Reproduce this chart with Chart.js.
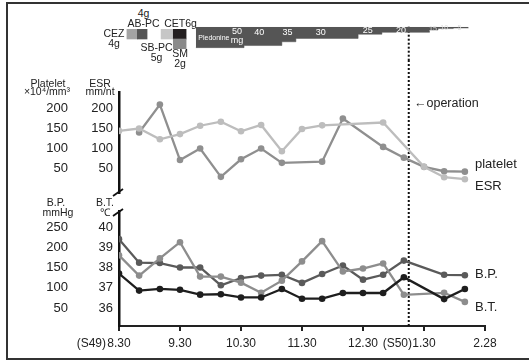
<!DOCTYPE html>
<html>
<head>
<meta charset="utf-8">
<script src="https://cdn.jsdelivr.net/npm/chart.js@4.4.1/dist/chart.umd.min.js"></script>
<style>
html, body { margin: 0; padding: 0; background: #fff; }
#wrap { position: relative; width: 529px; height: 361px; overflow: hidden; font-family: 'Liberation Sans', Arial, sans-serif; color: #222; }
#frame { position: absolute; left: 6px; top: 2px; width: 540px; height: 354px; border: 2px solid #333; border-right: none; }
canvas { position: absolute; left: 0; }
.t { position: absolute; white-space: nowrap; line-height: 1; color: #222; user-select: none; }
</style>
</head>
<body>
<div id="wrap">
  <div id="frame"></div>
  <canvas id="pred" width="529" height="40" style="top:20px"></canvas>
  <canvas id="drugs" width="529" height="20" style="top:29px"></canvas>
  <canvas id="upper" width="529" height="140" style="top:60px"></canvas>
  <canvas id="lower" width="529" height="161" style="top:200px"></canvas>
</div>
<script>
// x values are months after 8.30 (S49)
const monthTicks = ['8.30', '9.30', '10.30', '11.30', '12.30', '1.30', '2.28'];
const operationMonth = 4.75;

// antibiotics
const drugNames = ['CEZ', 'AB-PC', 'SB-PC', 'CET', 'SM'];
const drugFrom = [0.13, 0.30, 0.69, 0.89, 0.89];
const drugTo = [0.30, 0.46, 0.89, 1.10, 1.10];
const drugLane = ['1', '1', '1', '1', '2'];

// Pledonine taper
const pledFrom = [1.26, 2.05, 2.67, 2.90, 3.92, 4.31, 5.09, 5.23, 5.48];
const pledEnd = 5.73;
const pledMg = [50, 40, 35, 30, 25, 20, 15, 10, 5];
const pledBand = [50, 45, 36, 28, 18, 13.5, 8, 4.5, 3];

// platelet / ESR
const esrX = [0, 0.33, 0.67, 1, 1.33, 1.67, 2, 2.33, 2.67, 3, 3.33, 4.33, 5, 5.33, 5.67];
const esrVal = [144, 150, 123, 136, 157, 167, 143, 159, 93, 149, 158, 165, 54, 28, 23];
const plateletX = [0.33, 0.67, 1, 1.33, 1.67, 2, 2.33, 2.67, 3.33, 3.67, 4.33, 4.67, 5, 5.33, 5.67];
const plateletVal = [140, 210, 71, 100, 29, 73, 100, 64, 67, 175, 104, 77, 54, 43, 42];

// B.P. / B.T.
const vitalX = [0, 0.33, 0.67, 1, 1.33, 1.67, 2, 2.33, 2.67, 3, 3.33, 3.67, 4, 4.33, 4.67, 5.33, 5.67];
const bpHigh = [220, 162, 161, 150, 150, 106, 124, 130, 132, 112, 134, 155, 120, 132, 167, 132, 131];
const bpLow = [135, 93, 97, 95, 83, 84, 76, 76, 97, 73, 73, 87, 87, 87, 126, 72, 97];
const bodyTemp = [38.6, 37.6, 38.45, 39.25, 37.55, 37.55, 37.25, 36.75, 37.35, 38.3, 39.3, 37.8, 37.95, 38.2, 36.65, 36.75, 36.3];

const upperTicks = [50, 100, 150, 200];
const bpTicks = [50, 100, 150, 200, 250];
const btTicks = [36, 37, 38, 39, 40];

const FONT = "'Liberation Sans', Arial, sans-serif";
Chart.defaults.font.family = FONT;
Chart.defaults.color = '#222';
Chart.defaults.animation = false;
Chart.defaults.responsive = false;
Chart.defaults.devicePixelRatio = 1;
Chart.defaults.plugins.legend.display = false;
Chart.defaults.plugins.tooltip.enabled = false;

const pts = (xs, ys) => xs.map((x, i) => ({ x: x, y: ys[i] }));

// dotted operation line
const operationLine = {
  id: 'operationLine',
  beforeDatasetsDraw(chart, args, opts) {
    const x = chart.scales.x.getPixelForValue(operationMonth);
    const top = opts.fromArea ? chart.chartArea.top : 0;
    const bottom = opts.toArea ? chart.chartArea.bottom : chart.height;
    const ctx = chart.ctx;
    ctx.save();
    ctx.strokeStyle = '#111';
    ctx.lineWidth = 2;
    ctx.setLineDash([2, 2]);
    ctx.beginPath();
    ctx.moveTo(x, top);
    ctx.lineTo(x, bottom);
    ctx.stroke();
    ctx.restore();
  }
};

// little slash where the y axis is broken
const axisBreak = {
  id: 'axisBreak',
  afterDraw(chart, args, opts) {
    const { left, top, bottom } = chart.chartArea;
    const y = opts.at === 'top' ? top + 1 : bottom - 1;
    const ctx = chart.ctx;
    ctx.save();
    ctx.strokeStyle = '#111';
    ctx.lineWidth = 1.8;
    ctx.beginPath();
    ctx.moveTo(left - 6, y + 4);
    ctx.lineTo(left + 4, y - 3);
    ctx.stroke();
    ctx.restore();
  }
};

// dose numbers inside the Pledonine band
const doseLabels = {
  id: 'doseLabels',
  afterDatasetsDraw(chart) {
    const ctx = chart.ctx, xs = chart.scales.x, ys = chart.scales.y;
    const top = chart.chartArea.top;
    ctx.save();
    ctx.textAlign = 'center';
    ctx.textBaseline = 'middle';
    ctx.fillStyle = '#fff';
    ctx.font = '7px ' + FONT;
    ctx.fillText('Pledonine', xs.getPixelForValue(pledFrom[0]) + 18, top + 11);
    pledMg.forEach((mg, i) => {
      const a = pledFrom[i];
      const b = i + 1 < pledFrom.length ? pledFrom[i + 1] : pledEnd;
      const depth = ys.getPixelForValue(pledBand[i]) - top;
      if (i === 0) {
        ctx.font = '9px ' + FONT;
        const x = xs.getPixelForValue(b) - 7;
        ctx.fillText(String(mg), x, top + 5);
        ctx.fillText('mg', x, top + 13.5);
        return;
      }
      const small = i >= 6;
      ctx.font = (small ? '7px ' : '9px ') + FONT;
      ctx.fillStyle = small ? '#ddd' : '#fff';
      ctx.fillText(String(mg), xs.getPixelForValue(a + 0.4 * (b - a)), top + Math.min(5.5, depth / 2 + 0.5));
    });
    ctx.restore();
  }
};

// Pledonine step band
const pledPts = pts(pledFrom, pledBand);
pledPts.push({ x: pledEnd, y: pledBand[pledBand.length - 1] });
new Chart(document.getElementById('pred'), {
  type: 'line',
  data: {
    datasets: [{
      data: pledPts,
      stepped: true,
      fill: 'origin',
      backgroundColor: '#555',
      borderColor: '#555',
      borderWidth: 0.5,
      pointRadius: 0
    }]
  },
  options: {
    layout: { padding: { left: 119, right: 44, top: 6.7, bottom: 4 } },
    plugins: { operationLine: { fromArea: true } },
    scales: {
      x: { type: 'linear', min: 0, max: 6, display: false },
      y: { min: 0, max: 70, reverse: true, display: false }
    }
  },
  plugins: [operationLine, doseLabels]
});

// antibiotic blocks
new Chart(document.getElementById('drugs'), {
  type: 'bar',
  data: {
    labels: ['1', '2'],
    datasets: [{
      data: drugNames.map((n, i) => ({ x: [drugFrom[i], drugTo[i]], y: drugLane[i] })),
      backgroundColor: ['#a3a3a3', '#555555', '#c6c6c6', '#231f20', '#8a8a8a'],
      borderWidth: 0,
      barPercentage: 1,
      categoryPercentage: 1
    }]
  },
  options: {
    indexAxis: 'y',
    layout: { padding: { left: 119, right: 44, top: 0, bottom: 0 } },
    scales: {
      x: { type: 'linear', min: 0, max: 6, display: false },
      y: { type: 'category', display: false }
    }
  }
});

function leftAxis(ticks, min, max, width, pad, outer) {
  return {
    position: 'left',
    weight: outer ? 1 : 0,
    min: min,
    max: max,
    afterBuildTicks: s => { s.ticks = ticks.map(v => ({ value: v })); },
    afterFit: s => { s.width = width; s.paddingTop = 0; s.paddingBottom = 0; },
    grid: { display: false, drawTicks: false },
    border: outer ? { display: false } : { display: true, color: '#111', width: 2.5 },
    ticks: { padding: pad, font: { size: 13 }, color: '#222' }
  };
}

function series(data, color, axis) {
  return {
    data: data,
    yAxisID: axis,
    borderColor: color,
    backgroundColor: color,
    borderWidth: 2.3,
    pointRadius: 3.3,
    pointBorderWidth: 0,
    tension: 0
  };
}

// platelet / ESR panel
new Chart(document.getElementById('upper'), {
  type: 'line',
  data: {
    datasets: [
      series(pts(esrX, esrVal), '#bdbdbd', 'yEsr'),
      series(pts(plateletX, plateletVal), '#8f8f8f', 'yPlt')
    ]
  },
  options: {
    layout: { padding: { left: 0, right: 44, top: 32, bottom: 7 } },
    plugins: { axisBreak: { at: 'bottom' } },
    scales: {
      x: { type: 'linear', min: 0, max: 6, display: false },
      yPlt: leftAxis(upperTicks, -11.5, 241.5, 72, 4, true),
      yEsr: leftAxis(upperTicks, -11.5, 241.5, 47, 6, false)
    }
  },
  plugins: [operationLine, axisBreak]
});

// B.P. / B.T. panel
new Chart(document.getElementById('lower'), {
  type: 'line',
  data: {
    datasets: [
      series(pts(vitalX, bpLow), '#1e1e1e', 'yBP'),
      series(pts(vitalX, bodyTemp), '#8d8d8d', 'yBT'),
      series(pts(vitalX, bpHigh), '#5a5a5a', 'yBP')
    ]
  },
  options: {
    layout: { padding: { left: 0, right: 44, top: 11, bottom: 0 } },
    plugins: { operationLine: { toArea: true }, axisBreak: { at: 'top' } },
    scales: {
      x: {
        type: 'linear', min: 0, max: 6, position: 'bottom',
        afterBuildTicks: s => { s.ticks = monthTicks.map((t, i) => ({ value: i })); },
        afterFit: s => { s.height = 35; s.paddingLeft = 0; s.paddingRight = 0; },
        ticks: { callback: (v, i) => monthTicks[i], font: { size: 12 }, color: '#222', padding: 5, maxRotation: 0, autoSkip: false },
        grid: { drawOnChartArea: false, drawTicks: true, tickLength: 5, color: '#222', lineWidth: 2 },
        border: { display: true, color: '#222', width: 2 }
      },
      yBP: leftAxis(bpTicks, 5.56, 289.5, 72, 4, true),
      yBT: leftAxis(btTicks, 35.11, 40.79, 47, 6, false)
    }
  },
  plugins: [operationLine, axisBreak]
});

// text notes
const wrap = document.getElementById('wrap');
function note(text, x, y, size, align) {
  const d = document.createElement('div');
  d.className = 't';
  d.textContent = text;
  d.style.left = x + 'px';
  d.style.top = y + 'px';
  d.style.fontSize = size + 'px';
  d.style.transform = align === 'left' ? 'translate(0,-50%)' : align === 'right' ? 'translate(-100%,-50%)' : 'translate(-50%,-50%)';
  wrap.appendChild(d);
}
[
  ['4g', 143.5, 13], ['AB-PC', 143.5, 23], ['CEZ', 114, 33], ['4g', 114, 43],
  ['CET6g', 180.5, 23], ['SB-PC', 156.5, 47], ['5g', 156.5, 57], ['SM', 180, 53], ['2g', 180, 63],
  ['Platelet', 48, 83], ['×10⁴/mm³', 47, 91], ['ESR', 100, 83], ['mm/nt', 100, 91],
  ['B.P.', 56, 202], ['mmHg', 58, 212], ['B.T.', 105, 202], ['℃', 105, 212]
].forEach(n => note(n[0], n[1], n[2], 10.5, 'center'));

note('platelet', 475, 163, 13, 'left');
note('ESR', 475, 185, 13, 'left');
note('B.P.', 475, 273, 13, 'left');
note('B.T.', 475, 306, 13, 'left');
note('←operation', 414, 103, 12.5, 'left');
note('(S49)', 106, 343, 12, 'right');
note('(S50)', 412, 343, 12, 'right');
</script>
</body>
</html>
